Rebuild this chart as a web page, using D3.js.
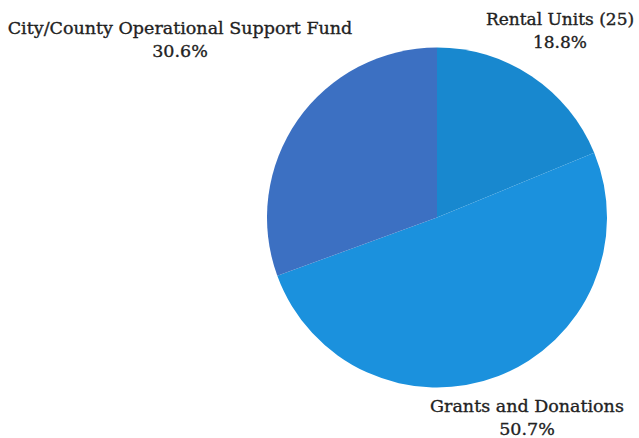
<!DOCTYPE html>
<html><head><meta charset="utf-8">
<script src="https://cdn.jsdelivr.net/npm/d3@7"></script>
<style>body{margin:0;background:#fff}svg{display:block}</style>
</head><body>
<svg id="c" width="639" height="438"></svg>
<script>
const categories = ["Rental Units (25)", "Grants and Donations", "City/County Operational Support Fund"];
const values = [18.8, 50.7, 30.6];
const percentLabels = ["18.8%", "50.7%", "30.6%"];
const colors = ["#1888cf", "#1b91dd", "#3c70c2"];

const svg = d3.select("#c");
const cx = 437, cy = 217.5, r = 170;
const g = svg.append("g").attr("transform", `translate(${cx},${cy})`);
const pie = d3.pie().sort(null).value(d => d)(values);
const arc = d3.arc().innerRadius(0).outerRadius(r);
g.selectAll("path").data(pie).enter().append("path")
  .attr("d", arc).attr("fill", (d, i) => colors[i]);

// label anchors (center x, baseline of first line)
const labelPos = [[560, 25], [527, 412], [180, 34]];
const font = "'DejaVu Serif', serif";
categories.forEach((c, i) => {
  const t = svg.append("text").attr("text-anchor", "middle")
    .attr("font-family", font).attr("font-size", i === 0 ? 17 : 17.5).attr("fill", "#222")
    .attr("stroke", "#222").attr("stroke-width", 0.35);
  t.append("tspan").attr("x", labelPos[i][0]).attr("y", labelPos[i][1]).text(c);
  t.append("tspan").attr("x", labelPos[i][0]).attr("y", labelPos[i][1] + 22.5).text(percentLabels[i]);
});
</script>
</body></html>
